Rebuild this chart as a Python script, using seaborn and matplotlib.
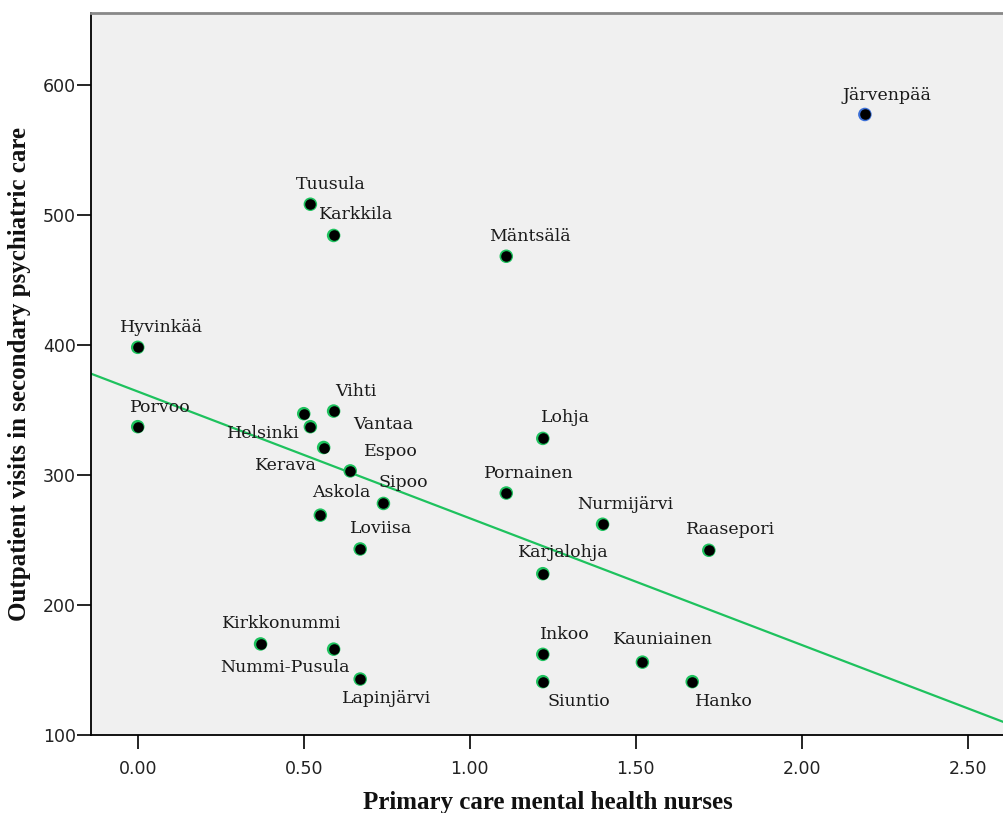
import matplotlib
matplotlib.use("Agg")
import matplotlib.pyplot as plt
import seaborn as sns
import pandas as pd

# Municipalities: primary care mental health nurses vs. outpatient visits
municipalities = [
    "Järvenpää", "Tuusula", "Karkkila", "Mäntsälä", "Hyvinkää", "Porvoo",
    "Vihti", "Helsinki", "Vantaa", "Espoo", "Kerava", "Sipoo", "Askola",
    "Loviisa", "Lohja", "Pornainen", "Nurmijärvi", "Raasepori", "Karjalohja",
    "Kirkkonummi", "Nummi-Pusula", "Lapinjärvi", "Inkoo", "Siuntio",
    "Kauniainen", "Hanko",
]
nurses = [
    2.19, 0.52, 0.59, 1.11, 0.00, 0.00,
    0.59, 0.52, 0.50, 0.64, 0.56, 0.74, 0.55,
    0.67, 1.22, 1.11, 1.40, 1.72, 1.22,
    0.37, 0.59, 0.67, 1.22, 1.22,
    1.52, 1.67,
]
visits = [
    577, 508, 484, 468, 398, 337,
    349, 337, 347, 303, 321, 278, 269,
    243, 328, 286, 262, 242, 224,
    170, 166, 143, 162, 141,
    156, 141,
]
# Järvenpää is shown as a separate group and left out of the fit line
group = ["separate"] + ["fitted"] * (len(municipalities) - 1)

x_ticks = [0.0, 0.5, 1.0, 1.5, 2.0, 2.5]
y_ticks = [100, 200, 300, 400, 500, 600]

df = pd.DataFrame({"name": municipalities, "nurses": nurses,
                   "visits": visits, "group": group})

# label offsets in points (dx, dy) relative to each marker
label_offsets = {
    "Järvenpää": (16, 14), "Tuusula": (15, 14), "Karkkila": (16, 15),
    "Mäntsälä": (17, 14), "Hyvinkää": (17, 14), "Porvoo": (16, 14),
    "Vihti": (16, 14), "Helsinki": (-34, -5), "Vantaa": (57, -8),
    "Espoo": (29.5, 14), "Kerava": (-27, -13), "Sipoo": (14.5, 15),
    "Askola": (15, 16), "Loviisa": (15, 15), "Lohja": (16, 15),
    "Pornainen": (16, 14), "Nurmijärvi": (16, 14), "Raasepori": (16, 15),
    "Karjalohja": (15, 15), "Kirkkonummi": (15, 15), "Nummi-Pusula": (-35, -13),
    "Lapinjärvi": (19, -14), "Inkoo": (16, 14), "Siuntio": (26, -14),
    "Kauniainen": (15, 16), "Hanko": (23, -14),
}

sns.set_theme(style="white")
plt.rcParams["font.family"] = ["DejaVu Serif"]

fig = plt.figure(figsize=(10.04, 8.13), dpi=100)
ax = fig.add_axes([91 / 1004, 1 - 735 / 813, 1 - 91 / 1004, 722 / 813])
ax.set_facecolor("#f0f0f0")
ax.set_xlim(-0.1407, 2.609)
ax.set_ylim(100, 655)

fitted = df[df["group"] == "fitted"]
sns.regplot(data=fitted, x="nurses", y="visits", ax=ax, ci=None,
            truncate=False, scatter=False,
            line_kws={"color": "#1ec25e", "lw": 1.6, "zorder": 2})

# marker halo (group colour) with a black core
sns.scatterplot(data=df, x="nurses", y="visits", hue="group",
                palette={"fitted": "#1ec25e", "separate": "#3b6fd6"},
                ax=ax, s=95, legend=False, zorder=3, linewidth=0)
sns.scatterplot(data=df, x="nurses", y="visits", color="black",
                ax=ax, s=58, legend=False, zorder=4, linewidth=0)

for name, xv, yv in zip(df["name"], df["nurses"], df["visits"]):
    dx, dy = label_offsets[name]
    ax.annotate(name, (xv, yv), xytext=(dx, dy), textcoords="offset points",
                ha="center", va="center", fontsize=12.5, color="#1a1a1a",
                family="DejaVu Serif")

ax.set_xticks(x_ticks)
ax.set_xticklabels([f"{v:.2f}" for v in x_ticks])
ax.set_yticks(y_ticks)
ax.set_yticklabels([str(v) for v in y_ticks])
ax.tick_params(axis="both", which="major", direction="out", length=10,
               width=1.2, color="black", labelsize=12.5, labelcolor="#222222",
               left=True, bottom=True)
ax.tick_params(axis="y", pad=1)
ax.tick_params(axis="x", pad=8)
for lab in ax.get_xticklabels() + ax.get_yticklabels():
    lab.set_family("DejaVu Sans")

ax.set_xlabel("Primary care mental health nurses", fontsize=18,
              fontweight="bold", family="Liberation Serif", labelpad=9,
              color="#111111")
ax.set_ylabel("Outpatient visits in secondary psychiatric care", fontsize=18,
              fontweight="bold", family="Liberation Serif", labelpad=8,
              color="#111111")

for side in ["left", "bottom"]:
    ax.spines[side].set_color("black")
    ax.spines[side].set_linewidth(1.3)
ax.spines["top"].set_color("#888888")
ax.spines["top"].set_linewidth(2)
ax.spines["right"].set_color("#d8d8d8")
ax.spines["right"].set_linewidth(1)

fig.savefig("out.png", dpi=100, facecolor="white")
